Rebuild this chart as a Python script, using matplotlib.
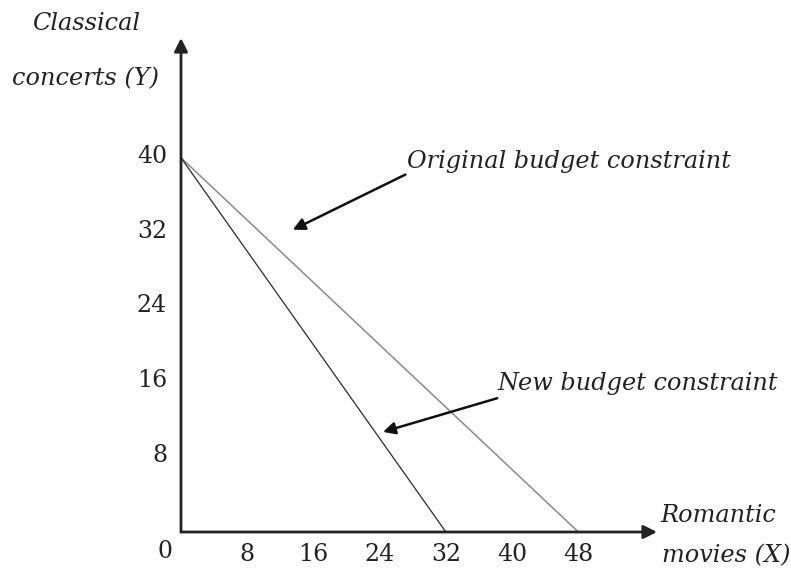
import matplotlib
matplotlib.use("Agg")
import matplotlib.pyplot as plt
import matplotlib.transforms as mtransforms

# budget constraint end points (X = romantic movies, Y = classical concerts)
original_x = [0, 48]
original_y = [40, 0]
new_x = [0, 32]
new_y = [40, 0]

x_ticks = [8, 16, 24, 32, 40, 48]
y_ticks = [8, 16, 24, 32, 40]

# arrow labels: (text, text position, arrow start, arrow tip)
labels = [
    ("Original budget constraint", (27.3, 39.6), (27.1, 38.2), (13.5, 32.3)),
    ("New budget constraint", (38.2, 15.9), (38.2, 14.3), (24.4, 10.7)),
]

W, H = 791, 588
fig = plt.figure(figsize=(W / 100, H / 100), dpi=100)
# axes placed so that the origin sits where it does in the original picture
ax = fig.add_axes([181 / W, (H - 532) / H, (657 - 181) / W, (532 - 38) / H])
ax.set_xlim(0, 57.5)
ax.set_ylim(0, 52.8)

for s in ax.spines.values():
    s.set_visible(False)

# the two budget lines
ax.plot(original_x, original_y, color="#8a8a8a", lw=1.1)
ax.plot(new_x, new_y, color="#2a2a2a", lw=0.9)

# axes drawn as arrows
axis_style = dict(arrowstyle="-|>", color="#222222", lw=2, mutation_scale=20,
                  shrinkA=0, shrinkB=0)
ax.annotate("", xy=(1, 0), xytext=(0, 0), xycoords="axes fraction",
            arrowprops=axis_style)
ax.annotate("", xy=(0, 1), xytext=(0, 0), xycoords="axes fraction",
            arrowprops=axis_style)

serif = "DejaVu Serif"
lab_size = 17.3
ax.set_xticks(x_ticks)
ax.set_yticks(y_ticks)
ax.set_xticklabels([str(v) for v in x_ticks], family=serif, fontsize=17)
ax.set_yticklabels([str(v) for v in y_ticks], family=serif, fontsize=17)
ax.tick_params(axis="x", length=0, pad=8, colors="#222222")
ax.tick_params(axis="y", length=0, pad=10, colors="#222222")

# y labels sit a few pixels above their values in the original
shift = mtransforms.ScaledTranslation(0, 4 / 100, fig.dpi_scale_trans)
for lbl in ax.get_yticklabels():
    lbl.set_transform(lbl.get_transform() + shift)

ax.annotate("0", xy=(0, 0), xytext=(-16, -20), textcoords="offset pixels",
            ha="center", va="center", family=serif, fontsize=17, color="#222222")

for text, txt_pos, start, tip in labels:
    ax.text(txt_pos[0], txt_pos[1], text, ha="left", va="center",
            family=serif, style="italic", fontsize=lab_size, color="#222222")
    ax.annotate("", xy=tip, xytext=start,
                arrowprops=dict(arrowstyle="-|>", color="#111111", lw=1.8,
                                mutation_scale=18, shrinkA=0, shrinkB=0))

# axis titles
def fig_text(px, py, s, ha="center"):
    fig.text(px / W, 1 - py / H, s, ha=ha, va="center", family=serif,
             style="italic", fontsize=lab_size, color="#222222")

fig_text(86, 24, "Classical")
fig_text(86, 79, "concerts (Y)")
fig_text(660, 515, "Romantic", ha="left")
fig_text(790, 556, "movies (X)", ha="right")

fig.savefig("out.png", dpi=100)
